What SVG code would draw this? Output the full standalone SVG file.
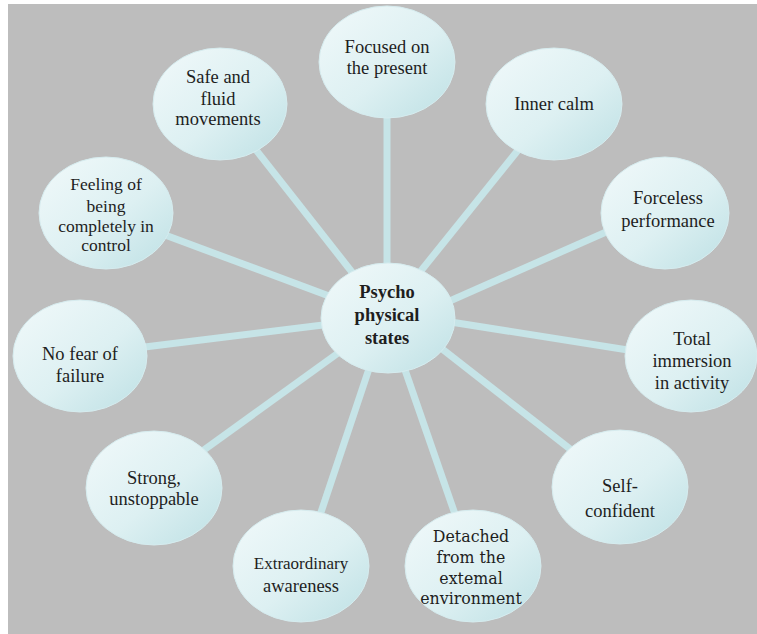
<svg xmlns="http://www.w3.org/2000/svg" width="757" height="634" viewBox="0 0 757 634">
  <defs>
    <linearGradient id="bubble" x1="0" y1="0" x2="1" y2="1">
      <stop offset="0" stop-color="#f1f9fa"/>
      <stop offset="0.55" stop-color="#ddf0f2"/>
      <stop offset="1" stop-color="#bde0e4"/>
    </linearGradient>
    <style>
      .bg { fill: #bdbdbd; }
      .link { stroke: #c6e4e7; stroke-width: 7; stroke-linecap: butt; fill: none; }
      .node ellipse { fill: url(#bubble); stroke: #d6ecef; stroke-width: 1; }
      .node text { font-family: 'Liberation Serif', 'Times New Roman', serif; font-size: 18.5px; fill: #1e1e1e; text-anchor: middle; }
      #detached text { font-family: 'DejaVu Serif', serif; font-size: 15.8px; }
      #hub text { font-weight: bold; }
    </style>
  </defs>

  <!-- page background -->
  <rect x="0" y="0" width="757" height="634" fill="#ffffff"/>
  <rect class="bg" x="8" y="4" width="749" height="630"/>

  <!-- spokes from the hub to every state -->
  <g id="connectors">
    <line class="link" x1="387" y1="318" x2="387" y2="62"/>
    <line class="link" x1="383" y1="318" x2="556" y2="103"/>
    <line class="link" x1="400" y1="323" x2="665" y2="206"/>
    <line class="link" x1="400" y1="314" x2="691" y2="360"/>
    <line class="link" x1="400" y1="316" x2="620" y2="488"/>
    <line class="link" x1="387" y1="318" x2="473" y2="566"/>
    <line class="link" x1="386" y1="318" x2="303" y2="566"/>
    <line class="link" x1="388" y1="317" x2="154" y2="486"/>
    <line class="link" x1="388" y1="317" x2="80" y2="355"/>
    <line class="link" x1="388" y1="318" x2="106" y2="213"/>
    <line class="link" x1="388" y1="318" x2="220" y2="104"/>
  </g>

  <g id="focused" class="node">
    <ellipse cx="387" cy="62" rx="68" ry="56"/>
    <text x="387" y="53">Focused on</text>
    <text x="387" y="74">the present</text>
  </g>

  <g id="inner-calm" class="node">
    <ellipse cx="554" cy="104" rx="68" ry="56"/>
    <text x="554" y="110">Inner calm</text>
  </g>

  <g id="forceless" class="node">
    <ellipse cx="665" cy="213" rx="64" ry="56"/>
    <text x="668" y="204">Forceless</text>
    <text x="668" y="227">performance</text>
  </g>

  <g id="total-immersion" class="node">
    <ellipse cx="691" cy="356" rx="66" ry="56"/>
    <text x="692" y="345">Total</text>
    <text x="692" y="367">immersion</text>
    <text x="692" y="389">in activity</text>
  </g>

  <g id="self-confident" class="node">
    <ellipse cx="620" cy="487" rx="68" ry="57"/>
    <text x="620" y="492">Self-</text>
    <text x="620" y="517">confident</text>
  </g>

  <g id="detached" class="node">
    <ellipse cx="473" cy="566" rx="68" ry="56"/>
    <text x="471" y="542">Detached</text>
    <text x="471" y="563">from the</text>
    <text x="471" y="584">extemal</text>
    <text x="471" y="604">environment</text>
  </g>

  <g id="extraordinary" class="node">
    <ellipse cx="301" cy="566" rx="68" ry="56"/>
    <text x="301" y="569" style="font-size:17px">Extraordinary</text>
    <text x="301" y="592">awareness</text>
  </g>

  <g id="strong" class="node">
    <ellipse cx="154" cy="488" rx="68" ry="57"/>
    <text x="154" y="484">Strong,</text>
    <text x="154" y="505">unstoppable</text>
  </g>

  <g id="no-fear" class="node">
    <ellipse cx="80" cy="356" rx="67" ry="56"/>
    <text x="80" y="360">No fear of</text>
    <text x="80" y="382">failure</text>
  </g>

  <g id="control" class="node">
    <ellipse cx="106" cy="213" rx="67" ry="56"/>
    <text x="106" y="190" style="font-size:17.5px">Feeling of</text>
    <text x="106" y="212" style="font-size:17.5px">being</text>
    <text x="106" y="232" style="font-size:17.5px">completely in</text>
    <text x="106" y="251" style="font-size:17.5px">control</text>
  </g>

  <g id="safe-fluid" class="node">
    <ellipse cx="220" cy="104" rx="67" ry="56"/>
    <text x="218" y="83">Safe and</text>
    <text x="218" y="105">fluid</text>
    <text x="218" y="125">movements</text>
  </g>

  <g id="hub" class="node">
    <ellipse cx="388" cy="318" rx="67" ry="55"/>
    <text x="387" y="298">Psycho</text>
    <text x="387" y="321">physical</text>
    <text x="387" y="344">states</text>
  </g>
</svg>
